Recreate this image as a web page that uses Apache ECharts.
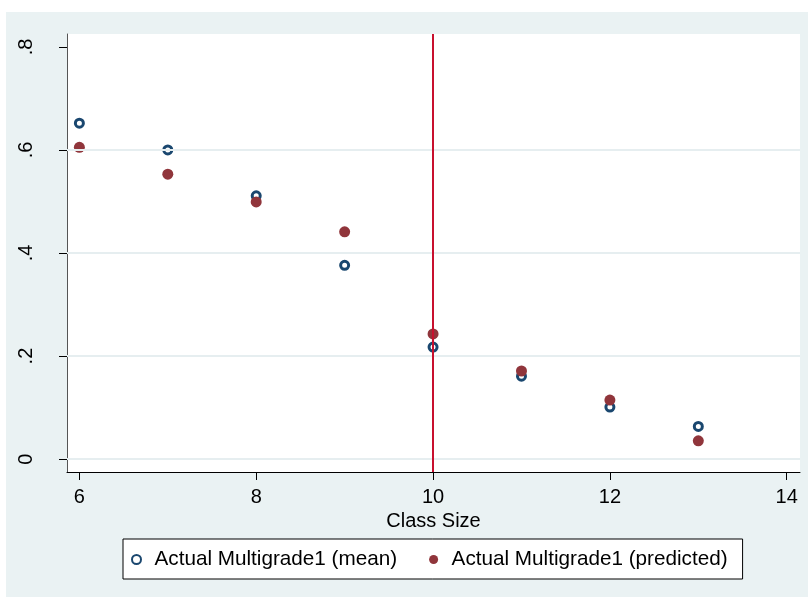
<!DOCTYPE html>
<html>
<head>
<meta charset="utf-8">
<script src="https://cdn.jsdelivr.net/npm/echarts@6/dist/echarts.min.js"></script>
<style>html,body{margin:0;padding:0;background:#fff;}#c{width:808px;height:597px;}</style>
</head>
<body>
<div id="c"></div>
<script>
const classSize = [6, 7, 8, 9, 10, 11, 12, 13];
const meanVals = [0.652, 0.600, 0.511, 0.376, 0.2175, 0.161, 0.101, 0.0635];
const predVals = [0.605, 0.553, 0.499, 0.441, 0.243, 0.171, 0.1146, 0.0356];
const xTicks = [6, 8, 10, 12, 14];
const yTicks = [0, 0.2, 0.4, 0.6, 0.8];
const yTickLabels = ['0', '.2', '.4', '.6', '.8'];
const gridYs = [0, 0.2, 0.4, 0.6];
const cutoff = 10;
const seriesNames = ['Actual Multigrade1 (mean)', 'Actual Multigrade1 (predicted)'];

const FONT = 'Liberation Sans, Arial, sans-serif';
const chart = echarts.init(document.getElementById('c'), null, {renderer: 'canvas'});
const option = {
  backgroundColor: '#ffffff',
  animation: false,
  graphic: [{
    type: 'rect', z: -10, silent: true,
    shape: {x: 6, y: 12, width: 802, height: 585},
    style: {fill: '#eaf2f3'}
  }],
  grid: {
    left: 67, right: 8, top: 34, bottom: 125,
    show: true, backgroundColor: '#ffffff', borderWidth: 0
  },
  xAxis: {
    type: 'value', min: 5.86, max: 14.15,
    name: 'Class Size', nameLocation: 'middle', nameGap: 33,
    nameTextStyle: {fontSize: 20, color: '#000', fontFamily: FONT},
    axisLine: {show: true, onZero: false, lineStyle: {color: '#000', width: 1}},
    axisTick: {show: true, length: 8, customValues: xTicks, lineStyle: {color: '#000', width: 1}},
    axisLabel: {show: true, customValues: xTicks, margin: 15, fontSize: 20, color: '#000', fontFamily: FONT},
    splitLine: {show: false}
  },
  yAxis: {
    type: 'value', min: -0.025, max: 0.825,
    axisLine: {show: true, onZero: false, lineStyle: {color: '#555', width: 1}},
    axisTick: {show: true, length: 8, customValues: yTicks, lineStyle: {color: '#000', width: 1}},
    axisLabel: {
      show: true, customValues: yTicks, rotate: 90, margin: 31, fontSize: 20, color: '#000', fontFamily: FONT,
      formatter: function (v) {
        for (let i = 0; i < yTicks.length; i++) { if (Math.abs(yTicks[i] - v) < 1e-9) return yTickLabels[i]; }
        return '';
      }
    },
    splitLine: {show: false}
  },
  legend: {
    left: 123, top: 539, orient: 'horizontal',
    itemWidth: 26, itemHeight: 9, itemGap: 32,
    padding: [10, 15, 9, 8],
    borderColor: '#000', borderWidth: 1, backgroundColor: '#ffffff',
    textStyle: {fontSize: 20.7, lineHeight: 20, color: '#000', fontFamily: FONT},
    data: [
      {name: seriesNames[0], icon: 'circle', itemStyle: {color: '#ffffff', borderColor: '#1a476f', borderWidth: 2}},
      {name: seriesNames[1], icon: 'circle', itemStyle: {color: '#90353b', borderWidth: 0}}
    ]
  },
  series: [
    {
      type: 'scatter', name: 'grid', data: [], z: 1, silent: true,
      markLine: {
        silent: true, symbol: 'none', animation: false,
        label: {show: false},
        lineStyle: {color: '#e6eef0', width: 2, type: 'solid'},
        data: gridYs.map(v => ({yAxis: v}))
      }
    },
    {
      type: 'scatter', name: 'cutoff', data: [], z: 2, silent: true,
      markLine: {
        silent: true, symbol: 'none', animation: false,
        label: {show: false},
        lineStyle: {color: '#c8102e', width: 2, type: 'solid'},
        data: [{xAxis: cutoff}]
      }
    },
    {
      type: 'scatter', name: seriesNames[0], z: 3,
      symbol: 'circle', symbolSize: 8,
      itemStyle: {color: 'rgba(255,255,255,0)', borderColor: '#1a476f', borderWidth: 3, opacity: 1},
      data: classSize.map((x, i) => [x, meanVals[i]])
    },
    {
      type: 'scatter', name: seriesNames[1], z: 4,
      symbol: 'circle', symbolSize: 11,
      itemStyle: {color: '#90353b', opacity: 1},
      data: classSize.map((x, i) => [x, predVals[i]])
    }
  ]
};
chart.setOption(option);
</script>
</body>
</html>
